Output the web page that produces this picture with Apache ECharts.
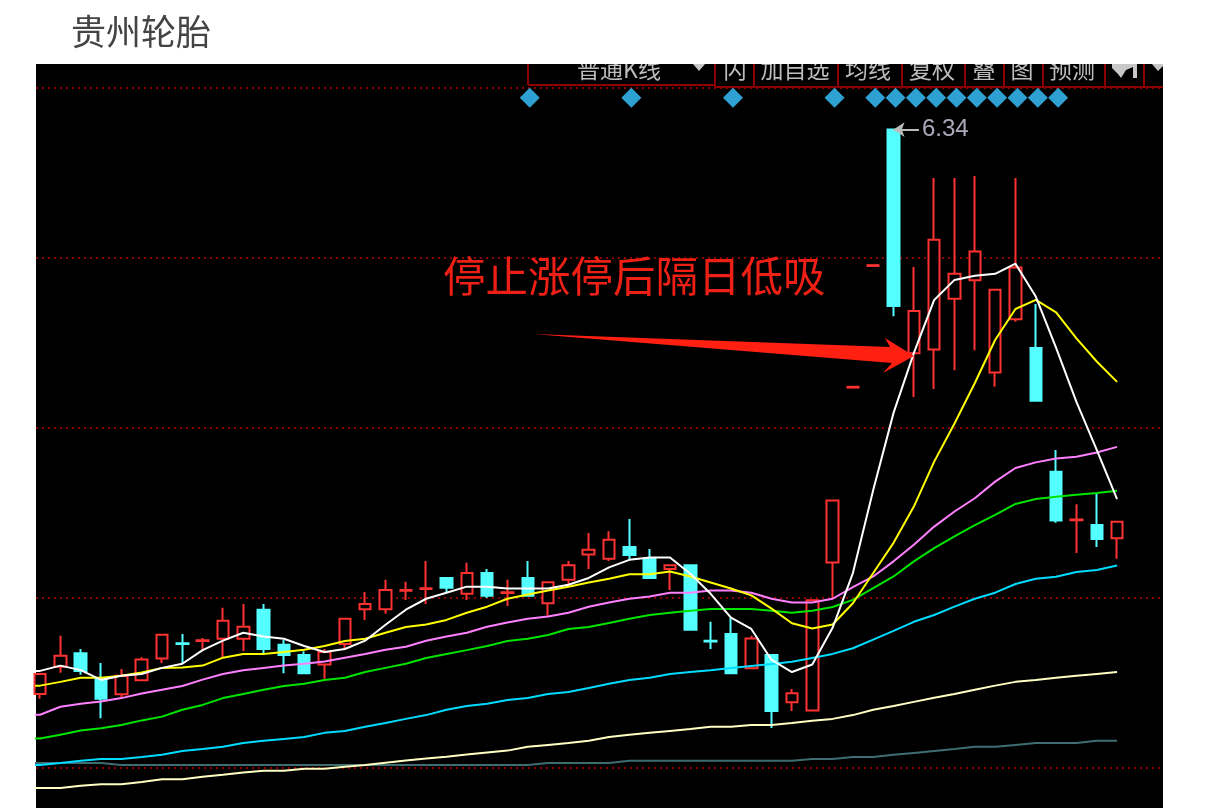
<!DOCTYPE html>
<html>
<head>
<meta charset="utf-8">
<title>贵州轮胎</title>
<script src="https://cdn.jsdelivr.net/npm/echarts@6/dist/echarts.min.js"></script>
<style>
  html, body { margin: 0; padding: 0; background: #fff; }
  #main { width: 1228px; height: 808px; }
</style>
</head>
<body>
<div id="main"></div>
<script>
// K线 [开, 收, 低, 高]，从第 1 个交易日起（第 0 日在画面左侧之外）
const candles = [
  [4.846,4.899,4.833,4.899],[4.918,4.947,4.902,5.000],[4.954,4.907,4.897,4.965],[4.888,4.833,4.782,4.928],
  [4.845,4.894,4.838,4.912],[4.882,4.937,4.882,4.943],[4.940,5.003,4.928,5.003],[4.980,4.978,4.925,5.005],
  [4.986,4.988,4.960,4.994],[4.992,5.040,4.944,5.074],[4.992,5.024,4.959,5.084],[5.069,4.965,4.953,5.084],
  [4.976,4.949,4.901,4.989],[4.949,4.901,4.901,4.959],[4.924,4.957,4.886,4.965],[4.978,5.045,4.965,5.045],
  [5.070,5.084,5.042,5.116],[5.070,5.121,5.058,5.148],[5.119,5.121,5.095,5.143],[5.124,5.126,5.084,5.198],
  [5.153,5.127,5.114,5.153],[5.111,5.166,5.095,5.193],[5.166,5.106,5.100,5.177],[5.113,5.115,5.079,5.148],
  [5.153,5.106,5.103,5.198],[5.086,5.142,5.053,5.142],[5.148,5.187,5.132,5.198],[5.215,5.228,5.177,5.272],
  [5.204,5.254,5.198,5.277],[5.235,5.214,5.201,5.309],[5.203,5.153,5.153,5.230],[5.177,5.187,5.121,5.187],
  [5.187,5.016,5.016,5.187],[4.987,4.985,4.965,5.037],[5.005,4.901,4.901,5.047],[4.914,4.993,4.914,5.000],
  [4.949,4.801,4.756,4.949],[4.824,4.848,4.801,4.859],[4.802,5.094,4.802,5.094],[5.194,5.358,5.100,5.358],
  [5.657,5.659,5.657,5.659],[5.979,5.981,5.979,5.981],[6.340,5.873,5.846,6.340],[5.748,5.860,5.632,5.976],
  [5.758,6.048,5.653,6.212],[5.892,5.958,5.703,6.212],[5.941,6.017,5.756,6.217],[5.697,5.916,5.659,5.916],
  [5.838,5.975,5.831,6.212],[5.762,5.622,5.622,5.878],[5.434,5.305,5.299,5.492],[5.306,5.308,5.219,5.348],
  [5.293,5.256,5.235,5.378],[5.258,5.302,5.204,5.302]
];

// 均线，从第 0 个交易日起
const ma5 = [4.905,4.907,4.921,4.909,4.883,4.894,4.899,4.915,4.926,4.962,4.987,5.008,4.998,4.992,4.973,4.957,4.965,4.987,5.029,5.069,5.098,5.114,5.130,5.130,5.125,5.125,5.125,5.135,5.153,5.181,5.201,5.207,5.207,5.164,5.111,5.048,5.018,4.936,4.904,4.924,5.021,5.166,5.386,5.590,5.749,5.889,5.942,5.953,5.958,5.985,5.898,5.762,5.619,5.492,5.362];
const ma10 = [4.868,4.868,4.878,4.889,4.889,4.894,4.903,4.915,4.916,4.921,4.942,4.952,4.952,4.957,4.963,4.973,4.986,4.992,5.008,5.023,5.030,5.042,5.061,5.077,5.098,5.109,5.120,5.130,5.141,5.151,5.163,5.163,5.170,5.157,5.141,5.125,5.107,5.072,5.033,5.019,5.030,5.086,5.166,5.246,5.342,5.461,5.562,5.669,5.783,5.865,5.889,5.856,5.787,5.726,5.672];
const ma20 = [4.790,4.791,4.812,4.820,4.826,4.835,4.847,4.857,4.867,4.884,4.899,4.909,4.915,4.921,4.926,4.932,4.942,4.952,4.963,4.971,4.987,4.998,5.008,5.024,5.035,5.045,5.051,5.061,5.077,5.088,5.098,5.104,5.114,5.114,5.120,5.120,5.114,5.098,5.088,5.088,5.098,5.129,5.157,5.197,5.241,5.289,5.329,5.364,5.408,5.444,5.459,5.469,5.474,5.485,5.500];
const ma30 = [4.727,4.728,4.738,4.749,4.755,4.764,4.776,4.786,4.804,4.817,4.835,4.846,4.857,4.867,4.873,4.883,4.889,4.904,4.915,4.926,4.941,4.952,4.962,4.973,4.986,4.992,5.002,5.018,5.023,5.034,5.045,5.055,5.061,5.066,5.071,5.071,5.071,5.066,5.061,5.066,5.076,5.095,5.126,5.157,5.197,5.232,5.263,5.293,5.320,5.349,5.362,5.368,5.373,5.378,5.384];
const ma60 = [4.658,4.658,4.663,4.669,4.674,4.674,4.679,4.685,4.695,4.700,4.706,4.716,4.722,4.727,4.732,4.743,4.748,4.759,4.769,4.780,4.790,4.804,4.814,4.820,4.830,4.835,4.846,4.851,4.862,4.873,4.883,4.889,4.899,4.904,4.909,4.915,4.920,4.925,4.931,4.941,4.952,4.967,4.990,5.013,5.037,5.055,5.077,5.098,5.114,5.137,5.151,5.156,5.169,5.174,5.186];
const ma120 = [4.597,4.597,4.597,4.603,4.607,4.607,4.613,4.620,4.620,4.627,4.632,4.638,4.643,4.643,4.648,4.648,4.653,4.658,4.664,4.670,4.675,4.680,4.686,4.691,4.696,4.706,4.711,4.716,4.722,4.732,4.738,4.743,4.748,4.753,4.759,4.759,4.764,4.764,4.769,4.775,4.780,4.790,4.804,4.814,4.825,4.836,4.846,4.857,4.868,4.878,4.883,4.889,4.894,4.899,4.904];
const ma250 = [4.663,4.663,4.663,4.663,4.663,4.658,4.658,4.658,4.658,4.658,4.658,4.658,4.658,4.658,4.658,4.658,4.658,4.658,4.658,4.658,4.658,4.658,4.658,4.658,4.658,4.658,4.663,4.663,4.663,4.663,4.669,4.669,4.669,4.669,4.669,4.669,4.669,4.669,4.669,4.674,4.674,4.679,4.679,4.685,4.690,4.695,4.700,4.706,4.706,4.711,4.716,4.716,4.716,4.722,4.722];

// 价格虚线、信号菱形所在的交易日
const gridLevels = [6.45, 6.00, 5.55, 5.10, 4.65];
const signalDays = [25, 30, 35, 40, 42, 43, 44, 45, 46, 47, 48, 49, 50, 51];
const signalPrice = 6.424;
const peakDay = 43;
const peakPrice = 6.34;
const peakLabel = '6.34';

const toolbarLabels = ['普通K线', '闪', '加自选', '均线', '复权', '叠', '图', '预测'];

const CJK = '"Noto Sans CJK SC"';
const RED = '#ff3232';
const AQUA = '#54ffff';

function maSeries(name, values, color) {
  return {
    name,
    type: 'line',
    data: values.map((v, i) => [i, v]),
    symbol: 'none',
    silent: true,
    z: 3,
    lineStyle: { color, width: 2 }
  };
}

// 顶部被截断的工具栏
function toolbarGraphics() {
  const centers = [619, 735, 795, 868, 932, 984, 1022, 1072];
  const seps = [528, 715, 754, 838, 902, 965, 1004, 1043, 1105, 1144];
  const line = (x1, y1, x2, y2) => ({
    type: 'line', z: 3,
    shape: { x1, y1, x2, y2 },
    style: { stroke: '#8b0000', lineWidth: 2 }
  });
  const items = toolbarLabels.map((text, i) => ({
    type: 'text', z: 3,
    x: centers[i], y: 69,
    style: { text, fill: '#bdbdbd', font: '23px ' + CJK, align: 'center', verticalAlign: 'middle' }
  }));
  seps.forEach((x, i) => items.push(line(x, 64, x, i === 0 ? 85 : 87)));
  items.push(line(528, 85, 715, 85), line(715, 87, 1163, 87));
  items.push(
    { type: 'polygon', z: 3, shape: { points: [[693, 64], [705, 64], [699, 71]] }, style: { fill: '#c8c8c8' } },
    { type: 'polygon', z: 3, shape: { points: [[1112, 64], [1137, 64], [1137, 78], [1133, 78], [1133, 67], [1126, 70], [1121, 78], [1118, 74], [1112, 68]] }, style: { fill: '#c8c8c8' } },
    { type: 'polygon', z: 3, shape: { points: [[1152, 64], [1163, 64], [1163, 66], [1158, 71]] }, style: { fill: '#c8c8c8' } }
  );
  return items;
}

const chart = echarts.init(document.getElementById('main'));
chart.setOption({
  animation: false,
  backgroundColor: '#fff',
  title: {
    text: '贵州轮胎',
    left: 71,
    top: 14,
    padding: 0,
    z: 6,
    textStyle: { color: '#444', fontSize: 35, fontWeight: 'normal', fontFamily: CJK }
  },
  grid: {
    show: true,
    left: 36,
    top: 64,
    width: 1127,
    height: 744,
    backgroundColor: '#000',
    borderWidth: 0
  },
  xAxis: { type: 'value', min: 0.8, max: 56.26, show: false },
  yAxis: { type: 'value', min: 4.5441, max: 6.5135, show: false, scale: true },
  graphic: toolbarGraphics().concat([
    // 盖住工具栏超出图区的上半截
    { type: 'rect', z: 4, shape: { x: 0, y: 0, width: 1228, height: 64 }, style: { fill: '#fff' } },
    {
      type: 'text', z: 8, x: 443, y: 276,
      style: { text: '停止涨停后隔日低吸', fill: '#ee2015', font: '42.5px ' + CJK, verticalAlign: 'middle' }
    },
    {
      type: 'polygon', z: 8,
      shape: { points: [[533, 334], [890, 347], [885, 338], [914, 356], [883, 373], [892, 363]] },
      style: { fill: '#ff2012' }
    }
  ]),
  series: [
    {
      name: 'K线',
      type: 'candlestick',
      data: candles.map((c, i) => [i + 1].concat(c)),
      barWidth: 12,
      silent: true,
      z: 2,
      itemStyle: {
        color: '#000',
        color0: AQUA,
        borderColor: RED,
        borderColor0: AQUA,
        borderWidth: 2
      },
      markLine: {
        silent: true,
        animation: false,
        symbol: ['arrow', 'none'],
        symbolSize: 11,
        precision: 2,
        lineStyle: { color: '#bbb', width: 2, type: 'solid' },
        label: {
          show: true,
          position: 'end',
          distance: 3,
          formatter: peakLabel,
          color: '#aab',
          fontSize: 24,
          fontFamily: 'Liberation Sans'
        },
        data: [[{ coord: [peakDay, peakPrice] }, { coord: [peakDay + 1.25, peakPrice] }]]
      }
    },
    maSeries('MA250', ma250, '#3d6d70'),
    maSeries('MA120', ma120, '#ffffc4'),
    maSeries('MA60', ma60, '#00dcff'),
    maSeries('MA30', ma30, '#00e400'),
    maSeries('MA20', ma20, '#ff80ff'),
    maSeries('MA10', ma10, '#ffff00'),
    maSeries('MA5', ma5, '#ffffff'),
    {
      name: '信号',
      type: 'scatter',
      data: signalDays.map(d => [d, signalPrice]),
      symbol: 'diamond',
      symbolSize: 20,
      symbolOffset: [2, 0],
      silent: true,
      itemStyle: { color: '#2ea0d2', opacity: 1 },
      markLine: {
        silent: true,
        animation: false,
        z: 1,
        symbol: 'none',
        label: { show: false },
        lineStyle: { color: '#8b0000', width: 2, type: [2, 4] },
        data: gridLevels.map(v => ({ yAxis: v }))
      }
    }
  ]
});
</script>
</body>
</html>
